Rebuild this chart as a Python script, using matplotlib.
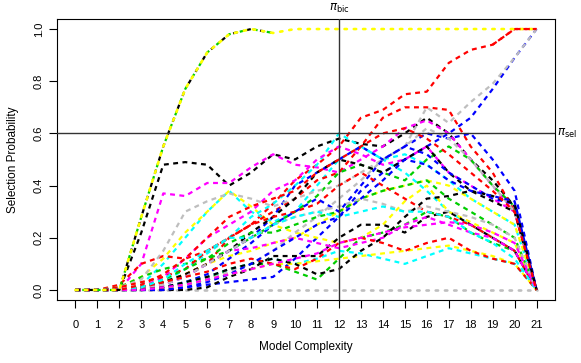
import matplotlib
matplotlib.use("Agg")
import matplotlib.pyplot as plt

plt.rcParams['font.family'] = ['Liberation Sans', 'DejaVu Sans']

complexity = list(range(22))
x_tick_labels = [str(i) for i in complexity]
y_ticks = [0.0, 0.2, 0.4, 0.6, 0.8, 1.0]
y_tick_labels = ["0.0", "0.2", "0.4", "0.6", "0.8", "1.0"]
pi_bic = 12
pi_sel = 0.6

top = [0, 0, 0.0, 0.28, 0.55, 0.77, 0.91, 0.98, 1.0, 0.985, 1, 1, 1, 1, 1, 1, 1, 1, 1, 1, 1, 1]
zero = [0] * 22

black_series = [
    [0, 0, 0, 0.22, 0.48, 0.49, 0.48, 0.40, 0.45, 0.52, 0.50, 0.55, 0.58, 0.56, 0.55, 0.60, 0.66, 0.60, 0.50, 0.42, 0.32, 0],
    [0, 0, 0, 0, 0, 0, 0.01, 0.05, 0.08, 0.13, 0.13, 0.13, 0.20, 0.25, 0.25, 0.22, 0.28, 0.30, 0.25, 0.20, 0.15, 0],
    [0, 0, 0, 0.01, 0.03, 0.06, 0.10, 0.15, 0.22, 0.28, 0.35, 0.45, 0.50, 0.48, 0.45, 0.50, 0.55, 0.45, 0.38, 0.34, 0.30, 0],
    [0, 0, 0, 0, 0.01, 0.03, 0.05, 0.08, 0.10, 0.12, 0.10, 0.06, 0.08, 0.15, 0.20, 0.28, 0.35, 0.36, 0.38, 0.36, 0.33, 0],
]
red_series = [
    [0, 0, 0, 0.01, 0.03, 0.06, 0.10, 0.20, 0.25, 0.33, 0.42, 0.48, 0.55, 0.66, 0.69, 0.75, 0.76, 0.87, 0.92, 0.94, 1.0, 1.0],
    [0, 0, 0.02, 0.10, 0.13, 0.12, 0.15, 0.20, 0.25, 0.30, 0.35, 0.42, 0.45, 0.55, 0.66, 0.70, 0.70, 0.69, 0.55, 0.45, 0.30, 0],
    [0, 0, 0.01, 0.03, 0.05, 0.08, 0.15, 0.20, 0.25, 0.28, 0.30, 0.33, 0.40, 0.45, 0.40, 0.35, 0.30, 0.28, 0.25, 0.20, 0.15, 0],
    [0, 0, 0, 0.01, 0.03, 0.05, 0.07, 0.10, 0.12, 0.10, 0.08, 0.12, 0.18, 0.20, 0.18, 0.15, 0.18, 0.20, 0.15, 0.12, 0.10, 0],
    [0, 0, 0, 0.02, 0.06, 0.12, 0.20, 0.28, 0.32, 0.35, 0.38, 0.45, 0.50, 0.55, 0.60, 0.62, 0.58, 0.52, 0.45, 0.38, 0.30, 0],
]
green_series = [
    [0, 0, 0, 0, 0.01, 0.02, 0.04, 0.08, 0.10, 0.10, 0.07, 0.04, 0.12, 0.20, 0.22, 0.25, 0.30, 0.28, 0.22, 0.18, 0.15, 0],
    [0, 0, 0.01, 0.05, 0.08, 0.10, 0.12, 0.15, 0.20, 0.25, 0.30, 0.36, 0.45, 0.48, 0.45, 0.42, 0.50, 0.55, 0.50, 0.40, 0.32, 0],
    [0, 0, 0, 0.01, 0.04, 0.08, 0.12, 0.18, 0.22, 0.22, 0.25, 0.28, 0.30, 0.35, 0.38, 0.40, 0.42, 0.35, 0.30, 0.25, 0.20, 0],
]
blue_series = [
    [0, 0, 0, 0, 0, 0.01, 0.02, 0.03, 0.04, 0.05, 0.12, 0.20, 0.28, 0.38, 0.45, 0.50, 0.55, 0.60, 0.66, 0.77, 0.89, 1.0],
    [0, 0, 0, 0.01, 0.02, 0.05, 0.10, 0.15, 0.20, 0.28, 0.40, 0.45, 0.50, 0.55, 0.50, 0.55, 0.60, 0.58, 0.60, 0.50, 0.38, 0],
    [0, 0, 0, 0, 0.01, 0.03, 0.06, 0.12, 0.18, 0.25, 0.30, 0.35, 0.30, 0.40, 0.50, 0.55, 0.52, 0.45, 0.40, 0.35, 0.33, 0],
    [0, 0, 0, 0, 0, 0.01, 0.03, 0.06, 0.10, 0.15, 0.20, 0.25, 0.28, 0.35, 0.42, 0.50, 0.48, 0.42, 0.38, 0.36, 0.34, 0],
]
cyan_series = [
    [0, 0, 0, 0.02, 0.10, 0.20, 0.30, 0.38, 0.30, 0.26, 0.30, 0.40, 0.50, 0.55, 0.50, 0.45, 0.38, 0.30, 0.25, 0.20, 0.15, 0],
    [0, 0, 0, 0.01, 0.03, 0.08, 0.14, 0.20, 0.28, 0.33, 0.40, 0.48, 0.60, 0.55, 0.50, 0.52, 0.48, 0.42, 0.35, 0.30, 0.25, 0],
    [0, 0, 0, 0, 0.01, 0.03, 0.05, 0.08, 0.10, 0.12, 0.10, 0.12, 0.15, 0.14, 0.12, 0.10, 0.13, 0.16, 0.14, 0.12, 0.10, 0],
    [0, 0, 0, 0.01, 0.04, 0.10, 0.15, 0.20, 0.20, 0.25, 0.28, 0.30, 0.28, 0.30, 0.32, 0.30, 0.30, 0.28, 0.22, 0.18, 0.12, 0],
]
magenta_series = [
    [0, 0, 0, 0.10, 0.37, 0.36, 0.41, 0.41, 0.47, 0.52, 0.48, 0.47, 0.45, 0.50, 0.55, 0.62, 0.65, 0.60, 0.50, 0.40, 0.30, 0],
    [0, 0, 0, 0.01, 0.05, 0.12, 0.20, 0.25, 0.30, 0.38, 0.42, 0.50, 0.55, 0.52, 0.48, 0.50, 0.55, 0.45, 0.40, 0.35, 0.30, 0],
    [0, 0, 0, 0, 0.02, 0.05, 0.10, 0.15, 0.16, 0.18, 0.20, 0.18, 0.16, 0.18, 0.20, 0.25, 0.28, 0.25, 0.22, 0.20, 0.15, 0],
    [0, 0, 0, 0, 0.01, 0.02, 0.04, 0.06, 0.08, 0.10, 0.12, 0.14, 0.18, 0.20, 0.22, 0.24, 0.25, 0.26, 0.25, 0.22, 0.18, 0],
]
yellow_series = [
    [0, 0, 0.01, 0.05, 0.12, 0.22, 0.30, 0.38, 0.32, 0.25, 0.22, 0.20, 0.18, 0.20, 0.25, 0.34, 0.40, 0.30, 0.26, 0.22, 0.18, 0],
    [0, 0, 0, 0.01, 0.03, 0.06, 0.10, 0.13, 0.15, 0.18, 0.20, 0.25, 0.30, 0.35, 0.38, 0.40, 0.42, 0.40, 0.35, 0.30, 0.25, 0],
    [0, 0, 0, 0, 0.01, 0.02, 0.04, 0.06, 0.08, 0.10, 0.10, 0.11, 0.12, 0.13, 0.14, 0.15, 0.16, 0.17, 0.15, 0.13, 0.10, 0],
]
gray_series = [
    [0, 0, 0, 0, 0.01, 0.02, 0.04, 0.07, 0.10, 0.15, 0.22, 0.28, 0.35, 0.42, 0.50, 0.55, 0.70, 0.64, 0.72, 0.79, 0.89, 1.0],
    [0, 0, 0.01, 0.04, 0.15, 0.30, 0.34, 0.37, 0.35, 0.32, 0.35, 0.38, 0.40, 0.45, 0.50, 0.55, 0.62, 0.58, 0.50, 0.40, 0.30, 0],
    [0, 0, 0, 0.01, 0.02, 0.05, 0.10, 0.15, 0.20, 0.25, 0.28, 0.30, 0.32, 0.35, 0.33, 0.30, 0.32, 0.30, 0.28, 0.25, 0.20, 0],
]

colors = {
    "black": "#000000", "red": "#FF0000", "green": "#00CD00", "blue": "#0000FF",
    "cyan": "#00FFFF", "magenta": "#FF00FF", "yellow": "#FFFF00", "gray": "#BEBEBE",
}
groups = [
    ("black", black_series), ("red", red_series), ("green", green_series),
    ("blue", blue_series), ("cyan", cyan_series), ("magenta", magenta_series),
    ("yellow", yellow_series), ("gray", gray_series),
]

fig = plt.figure(figsize=(5.81, 3.63), dpi=100)
ax = fig.add_axes([57 / 581, 1 - 300.4 / 363, (555 - 57) / 581, (300.4 - 18.6) / 363])

LW = 1.6
dash_ls = (0, (2.2, 2.0))
dot_ls = (0, (0.9, 2.6))
# gray dotted line at zero
ax.plot(complexity, zero, color=colors["gray"], lw=1.9, linestyle=dot_ls,
        dash_capstyle="round", zorder=1)

max_len = max(len(s) for _, s in groups)
for i in range(max_len):
    for cname, series in groups:
        if i < len(series):
            ax.plot(complexity, series[i], color=colors[cname], lw=LW,
                    linestyle=dash_ls, zorder=2)

# always-selected variables: black and green dashed on the rise, yellow dotted on top
ax.plot(complexity[:10], top[:10], color=colors["black"], lw=LW,
        linestyle=(0, (2.0, 4.2)), zorder=3)
ax.plot(complexity[:10], top[:10], color=colors["green"], lw=LW,
        linestyle=(3.1, (2.0, 4.2)), zorder=3)
ax.plot(complexity, top, color=colors["yellow"], lw=1.9, linestyle=dot_ls,
        dash_capstyle="round", zorder=4)
# red reaching 1 drawn over the yellow at the end
ax.plot(complexity[19:], red_series[0][19:], color=colors["red"], lw=LW,
        linestyle=dash_ls, zorder=5)

ax.axvline(pi_bic, color="#333333", lw=1.0, zorder=6)
ax.axhline(pi_sel, color="#333333", lw=1.0, zorder=6)

ax.set_xlim(-0.84, 21.84)
ax.set_ylim(-0.04, 1.04)
ax.set_xticks(complexity)
ax.set_xticklabels(x_tick_labels, fontsize=8)
ax.set_yticks(y_ticks)
ax.set_yticklabels(y_tick_labels, fontsize=8, rotation=90, va="center")
ax.tick_params(axis="x", length=5.5, width=0.8, pad=8.5)
ax.tick_params(axis="y", length=5.5, width=0.8, pad=4)
for sp in ax.spines.values():
    sp.set_linewidth(0.8)

ax.set_xlabel("Model Complexity", fontsize=8.5, labelpad=8)
ax.set_ylabel("Selection Probability", fontsize=8.5, labelpad=11)

ax.text(pi_bic, 1.04 + 0.015, r"$\pi_{\mathrm{bic}}$", ha="center", va="bottom",
        fontsize=8.5, transform=ax.transData, clip_on=False)
ax.text(1.005, pi_sel, r"$\pi_{\mathrm{sel}}$", ha="left", va="center",
        fontsize=8.5, transform=ax.get_yaxis_transform(), clip_on=False)

fig.savefig("out.png", dpi=100)
